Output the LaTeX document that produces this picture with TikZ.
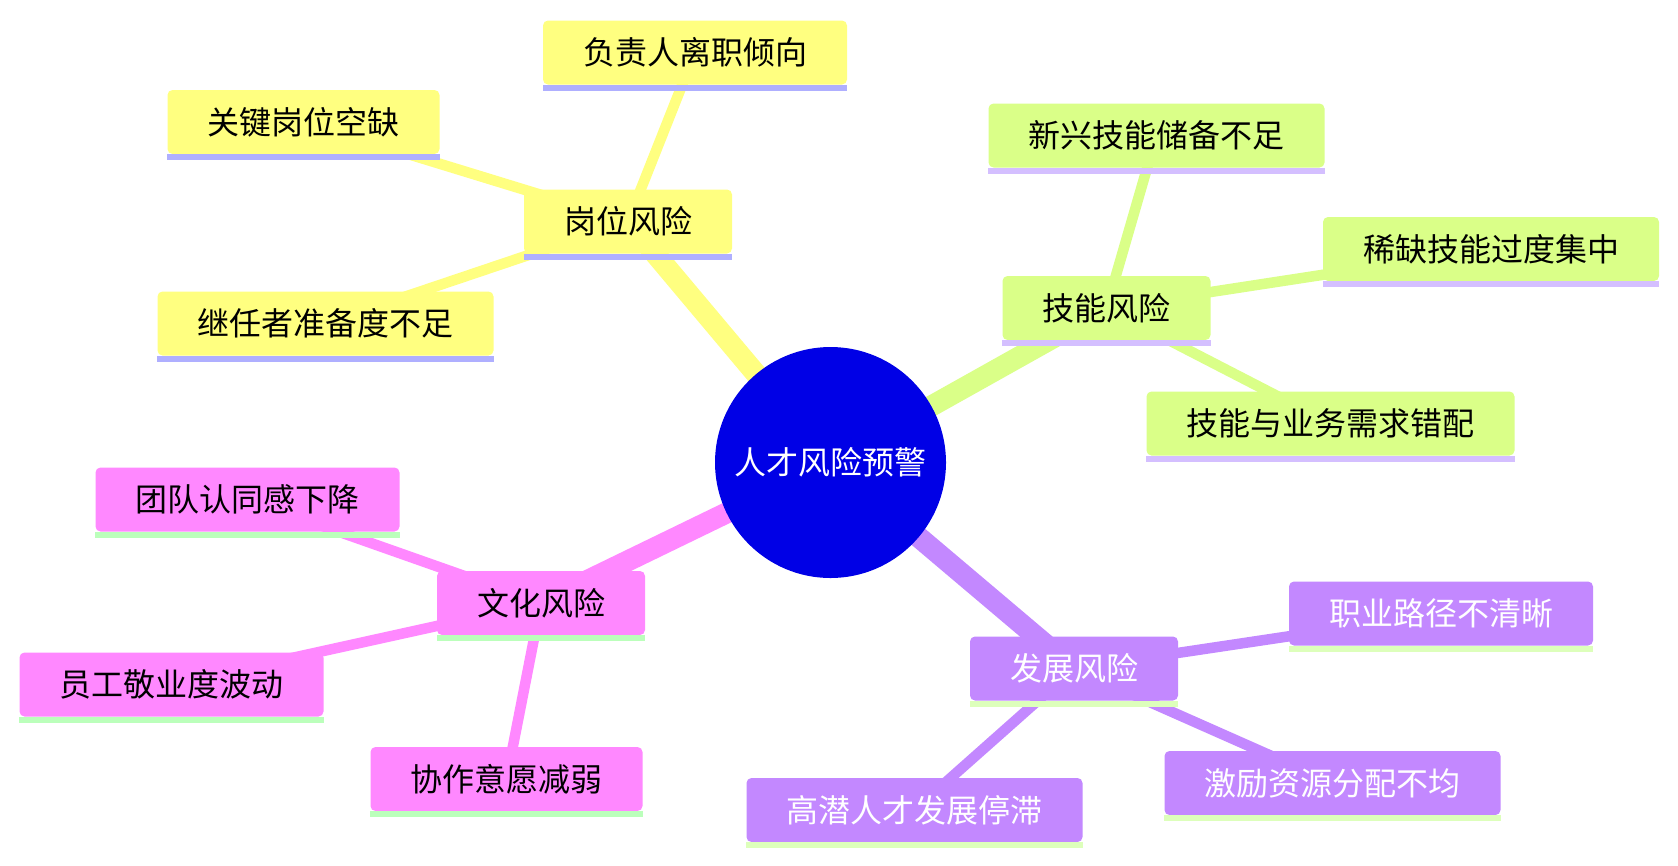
\documentclass[tikz,border=0pt]{standalone}
\usepackage{fontspec}
\setmainfont{Noto Sans CJK SC}
\usetikzlibrary{backgrounds}
\pgfdeclarelayer{canvas}
\pgfsetlayers{canvas,background,main}
\definecolor{cY}{HTML}{FFFF80}
\definecolor{uY}{HTML}{AFAFFF}
\definecolor{cG}{HTML}{DAFF88}
\definecolor{uG}{HTML}{D4BFFF}
\definecolor{cP}{HTML}{FF88FF}
\definecolor{uP}{HTML}{BBFFBB}
\definecolor{cV}{HTML}{C388FF}
\definecolor{uV}{HTML}{DDFFBB}
\definecolor{cC}{HTML}{0000E6}
\begin{document}
\begin{tikzpicture}[x=1pt,y=-1pt,
  box/.style={rounded corners=5pt, inner xsep=40pt, inner ysep=0pt, minimum height=64pt,
    font=\fontsize{32}{38}\selectfont, text=black},
  ybox/.style={box, fill=cY},
  gbox/.style={box, fill=cG},
  pbox/.style={box, fill=cP},
  vbox/.style={box, fill=cV, text=white},
  root/.style={circle, fill=cC, minimum size=231pt, inner sep=0pt, text=white,
    font=\fontsize{32}{38}\selectfont},
  mainedge/.style={line width=21pt},
  subedge/.style={line width=10.5pt}]
\useasboundingbox (0,0) rectangle (1678,865);
\begin{pgfonlayer}{canvas}
  \fill[white] (0,0) rectangle (1678,865);
\end{pgfonlayer}

\node[root] (c) at (830.5,462.5) {人才风险预警};

\node[ybox] (gw) at (628,221.5) {岗位风险};
\node[ybox] (gw1) at (695,52.5) {负责人离职倾向};
\node[ybox] (gw2) at (303.5,122) {关键岗位空缺};
\node[ybox] (gw3) at (325.5,323.5) {继任者准备度不足};

\node[gbox] (jn) at (1106.5,308) {技能风险};
\node[gbox] (jn1) at (1156.5,135.5) {新兴技能储备不足};
\node[gbox] (jn2) at (1491,249) {稀缺技能过度集中};
\node[gbox] (jn3) at (1330.5,423.5) {技能与业务需求错配};

\node[pbox] (wh) at (541,603) {文化风险};
\node[pbox] (wh1) at (247.5,499.5) {团队认同感下降};
\node[pbox] (wh2) at (171.5,684.5) {员工敬业度波动};
\node[pbox] (wh3) at (506.5,779) {协作意愿减弱};

\node[vbox] (fz) at (1074,668.5) {发展风险};
\node[vbox] (fz1) at (1441,613.5) {职业路径不清晰};
\node[vbox] (fz2) at (1332.5,783) {激励资源分配不均};
\node[vbox] (fz3) at (914.5,810) {高潜人才发展停滞};

\foreach \n/\u in {gw/uY,gw1/uY,gw2/uY,gw3/uY,jn/uG,jn1/uG,jn2/uG,jn3/uG,
                   wh/uP,wh1/uP,wh2/uP,wh3/uP,fz/uV,fz1/uV,fz2/uV,fz3/uV}
  \fill[\u] (\n.south west) rectangle ([yshift=-6pt]\n.south east);

\begin{pgfonlayer}{background}
  \draw[mainedge, cY] (c.center) -- (gw.center);
  \draw[mainedge, cG] (c.center) -- (jn.center);
  \draw[mainedge, cP] (c.center) -- (wh.center);
  \draw[mainedge, cV] (c.center) -- (fz.center);
  \foreach \a/\b/\col in {gw/gw1/cY,gw/gw2/cY,gw/gw3/cY,jn/jn1/cG,jn/jn2/cG,jn/jn3/cG,
                          wh/wh1/cP,wh/wh2/cP,wh/wh3/cP,fz/fz1/cV,fz/fz2/cV,fz/fz3/cV}
    \draw[subedge, \col] (\a.center) -- (\b.center);
\end{pgfonlayer}
\end{tikzpicture}
\end{document}
